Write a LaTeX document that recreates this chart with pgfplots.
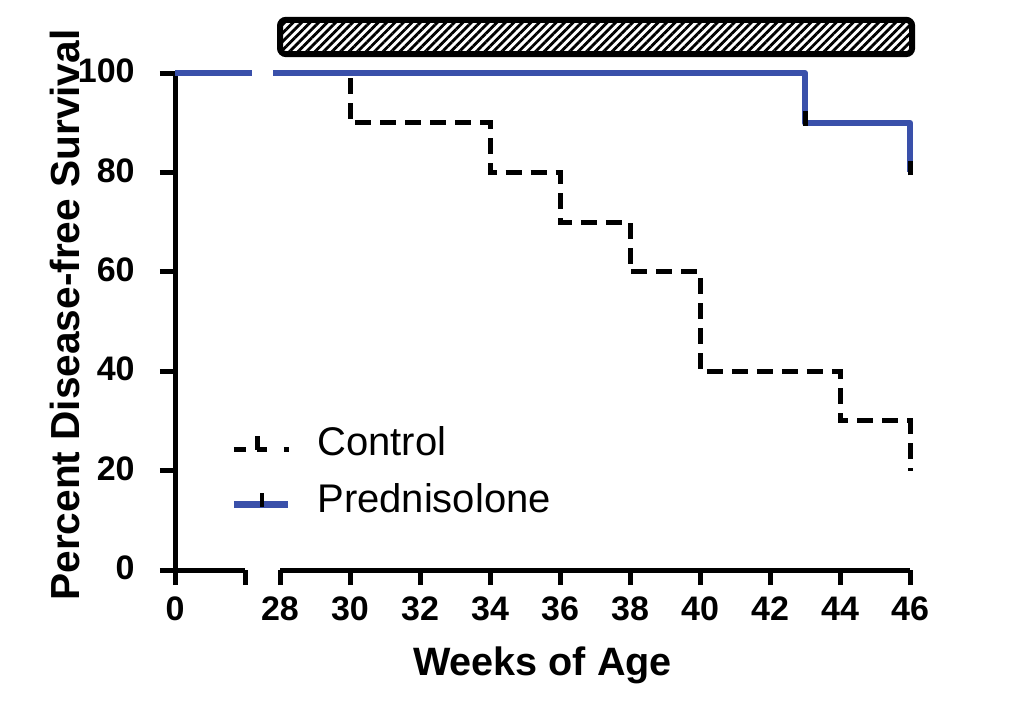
\documentclass[border=0pt]{standalone}
\usepackage{pgfplots}
\pgfplotsset{compat=1.18}
\usepackage{fontspec}
\setmainfont{Liberation Sans}
\usetikzlibrary{patterns.meta}
\definecolor{predblue}{RGB}{58,80,170}
\begin{document}
\begin{tikzpicture}
\begin{axis}[
  x=17.5pt, y=2.485pt,
  xmin=25, xmax=46, ymin=0, ymax=100,
  axis y line*=left, axis x line*=bottom,
  x axis line style={draw=none},
  y axis line style={line width=2.5pt},
  clip=false,
  unbounded coords=jump,
  xtick={25,27,28,30,32,34,36,38,40,42,44,46},
  xticklabels={0,,28,30,32,34,36,38,40,42,44,46},
  ytick={0,20,40,60,80,100},
  tick align=outside,
  major tick length=7.5pt,
  every tick/.style={black, line width=2.5pt},
  tick label style={font=\fontsize{17}{17}\selectfont\bfseries},
  /pgf/number format/assume math mode=true,
  xticklabel style={anchor=base, inner sep=0pt, yshift=-17.5pt},
  yticklabel style={anchor=east, inner sep=0pt, xshift=-12.5pt, yshift=1pt},
  ylabel={Percent Disease-free Survival},
  ylabel style={at={(axis description cs:-0.1497,0.513)}, anchor=center, font=\fontsize{20.3}{20}\selectfont\bfseries},
  xlabel={Weeks of Age},
  xlabel style={at={(axis description cs:0.5,-0.2113)}, anchor=base, font=\fontsize{19.8}{20}\selectfont\bfseries},
  legend cell align=left,
  legend style={at={(axis cs:26.57,19.3)}, anchor=west, draw=none, fill=none, inner sep=0pt,
    row sep=10.5pt, font=\fontsize{20}{20}\selectfont,
    nodes={inner sep=0pt, text height=14pt, text depth=4pt},
    /tikz/every odd column/.append style={column sep=13pt}},
]
\addplot[black, line width=2.5pt, dash pattern=on 8pt off 4.5pt,
  legend image code/.code={
    \draw[black,line width=2.5pt,dash pattern=on 6pt off 5.5pt on 5pt off 8.5pt on 2.5pt off 10pt] (0pt,-2pt) -- (27.5pt,-2pt);
    \draw[black,line width=2.5pt,solid] (12pt,-2pt) -- (12pt,5pt);
  }] coordinates {
  (28,100) (30,100) (30,90) (34,90) (34,80) (36,80) (36,70) (38,70)
  (38,60) (40,60) (40,40) (44,40) (44,30) (46,30) (46,20)
};
\addlegendentry{Control}
\addplot[predblue, line width=3pt, line join=round,
  legend image code/.code={
    \draw[predblue,line width=3.5pt,solid] (0pt,-1pt) -- (27pt,-1pt);
    \draw[black,line width=2pt,solid] (14pt,-2pt) -- (14pt,5pt);
  }] coordinates {
  (25,100) (27.2,100) (27.5,nan) (27.8,100) (43,100) (43,90) (46,90) (46,80)
};
\addlegendentry{Prednisolone}
\addplot[black, line width=2.5pt, forget plot] coordinates {(43,89.4) (43,92.3)};
\addplot[black, line width=2.5pt, forget plot] coordinates {(46,79.4) (46,82.3)};
\draw[line width=2.5pt] (axis cs:25,0) -- (axis cs:27,0);
\draw[line width=2.5pt] (axis cs:28,0) -- (axis cs:46,0);
\draw[line width=3pt, rounded corners=3pt, pattern={Lines[angle=45,distance=3pt,line width=1.4pt]}]
  (axis cs:28,103.8) rectangle (axis cs:46.06,110.7);
\path (axis cs:20,-30.78) rectangle (axis cs:49.257,114.69);
\end{axis}
\end{tikzpicture}
\end{document}
